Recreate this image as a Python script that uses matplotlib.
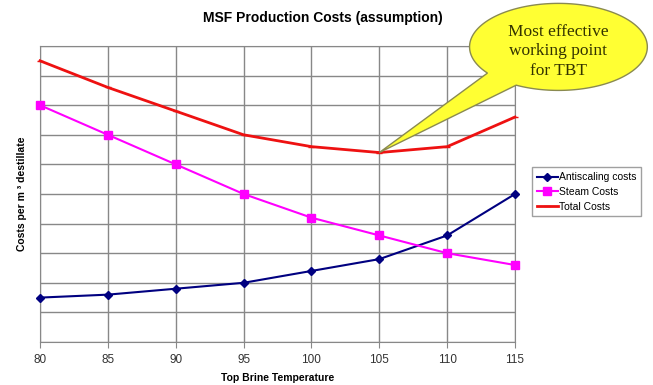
import numpy as np
import matplotlib
matplotlib.use("Agg")
import matplotlib.pyplot as plt
from matplotlib.patches import Polygon

temps = [80, 85, 90, 95, 100, 105, 110, 115]
antiscaling = [1.5, 1.6, 1.8, 2.0, 2.4, 2.8, 3.6, 5.0]
steam = [8.0, 7.0, 6.0, 5.0, 4.2, 3.6, 3.0, 2.6]
total = [9.5, 8.6, 7.8, 7.0, 6.6, 6.4, 6.6, 7.6]
best = 5  # index of most effective point

plt.rcParams["font.family"] = ["Liberation Sans", "DejaVu Sans"]


def main():
    fig = plt.figure(figsize=(6.53, 3.85), dpi=100)
    ax = fig.add_axes([0.0613, 0.1117, 0.7274, 0.7688])

    ax.plot(temps, antiscaling, color="#000080", lw=1.5, marker="D",
            ms=4, label="Antiscaling costs", clip_on=False, zorder=3)
    ax.plot(temps, steam, color="#ff00ff", lw=1.5, marker="s",
            ms=6, label="Steam Costs", clip_on=False, zorder=3)
    ax.plot(temps, total, color="#ee1111", lw=2, marker="_",
            ms=4, label="Total Costs", clip_on=False, zorder=4)

    ax.set_xlim(80, 115)
    ax.set_ylim(0, 10)
    ax.set_xticks(temps)
    ax.set_yticks(np.arange(0, 11, 1))
    ax.set_yticklabels([])
    ax.tick_params(axis="y", length=0)
    ax.tick_params(axis="x", length=4, color="#888888", labelsize=8.5,
                   labelcolor="#333333", pad=5)
    ax.grid(True, color="#888888", lw=1)
    for s in ax.spines.values():
        s.set_color("#888888")

    ax.set_xlabel("Top Brine Temperature", fontsize=7.5, fontweight="bold",
                  labelpad=5)
    ax.set_ylabel("Costs per m ³ destillate", fontsize=7.5,
                  fontweight="bold", labelpad=6)
    fig.text(0.495, 0.953, "MSF Production Costs (assumption)", ha="center",
             va="center", fontsize=10, fontweight="bold")

    leg = ax.legend(loc="upper left", bbox_to_anchor=(0.815, 0.565),
                    bbox_transform=fig.transFigure, fontsize=7.5,
                    frameon=True, fancybox=False, handlelength=2.0,
                    handletextpad=0.15, borderpad=0.45, labelspacing=0.45,
                    borderaxespad=0)
    leg.get_frame().set_edgecolor("#888888")
    leg.get_frame().set_linewidth(1)

    # speech bubble pointing at the minimum of total costs
    cx, cy, rx, ry = 118.2, 9.97, 6.55, 1.47
    th = np.radians(np.linspace(241.6, 577, 200))
    pts = np.column_stack([cx + rx * np.cos(th), cy + ry * np.sin(th)])
    pts = np.vstack([pts, [temps[best], total[best]]])
    bubble = Polygon(pts, closed=True, facecolor="#ffff33",
                     edgecolor="#8a8a50", lw=1, clip_on=False, zorder=5)
    ax.add_patch(bubble)
    ax.text(cx, cy - 0.15, "Most effective\nworking point\nfor TBT",
            ha="center", va="center", fontsize=12.5,
            family="Liberation Serif", color="#333300", linespacing=1.3,
            zorder=6)

    fig.savefig("out.png", dpi=100)


if __name__ == "__main__":
    main()
